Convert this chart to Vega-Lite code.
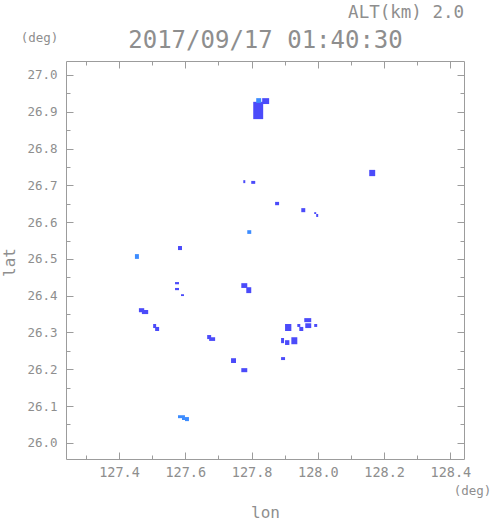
{
  "$schema": "https://vega.github.io/schema/vega-lite/v6.json",
  "width": 398,
  "height": 398,
  "autosize": {"type": "none"},
  "padding": {"left": 66, "top": 61, "right": 27, "bottom": 62},
  "background": "white",
  "config": {
    "view": {"stroke": null},
    "font": "DejaVu Sans Mono",
    "axis": {
      "grid": false,
      "domainColor": "#9c9c9c",
      "tickColor": "#9c9c9c",
      "domainWidth": 1,
      "tickWidth": 1,
      "labelColor": "#8e8e8e",
      "titleColor": "#8e8e8e",
      "labelFont": "DejaVu Sans Mono",
      "titleFont": "DejaVu Sans Mono",
      "titleFontWeight": "normal",
      "labelOverlap": false,
      "labelFlush": false
    }
  },
  "title": {
    "text": "ALT(km) 2.0",
    "anchor": "end",
    "frame": "group",
    "font": "DejaVu Sans Mono",
    "fontSize": 17.5,
    "fontWeight": "normal",
    "color": "#8e8e8e",
    "offset": 7
  },
  "data": {
    "values": [
      {"lon0": 127.814, "lon1": 127.829, "lat0": 26.924, "lat1": 26.937, "level": "low"},
      {"lon0": 127.832, "lon1": 127.853, "lat0": 26.921, "lat1": 26.937, "level": "high"},
      {"lon0": 127.805, "lon1": 127.835, "lat0": 26.880, "lat1": 26.927, "level": "high"},
      {"lon0": 127.578, "lon1": 127.590, "lat0": 26.524, "lat1": 26.535, "level": "high"},
      {"lon0": 127.448, "lon1": 127.460, "lat0": 26.500, "lat1": 26.513, "level": "low"},
      {"lon0": 127.569, "lon1": 127.581, "lat0": 26.431, "lat1": 26.437, "level": "high"},
      {"lon0": 127.569, "lon1": 127.581, "lat0": 26.415, "lat1": 26.421, "level": "high"},
      {"lon0": 127.587, "lon1": 127.596, "lat0": 26.399, "lat1": 26.404, "level": "high"},
      {"lon0": 127.460, "lon1": 127.476, "lat0": 26.355, "lat1": 26.366, "level": "high"},
      {"lon0": 127.469, "lon1": 127.488, "lat0": 26.350, "lat1": 26.361, "level": "high"},
      {"lon0": 127.503, "lon1": 127.512, "lat0": 26.312, "lat1": 26.323, "level": "high"},
      {"lon0": 127.509, "lon1": 127.521, "lat0": 26.304, "lat1": 26.315, "level": "high"},
      {"lon0": 127.666, "lon1": 127.678, "lat0": 26.282, "lat1": 26.293, "level": "high"},
      {"lon0": 127.672, "lon1": 127.690, "lat0": 26.277, "lat1": 26.287, "level": "high"},
      {"lon0": 127.775, "lon1": 127.781, "lat0": 26.706, "lat1": 26.714, "level": "high"},
      {"lon0": 127.799, "lon1": 127.811, "lat0": 26.704, "lat1": 26.712, "level": "high"},
      {"lon0": 127.871, "lon1": 127.883, "lat0": 26.646, "lat1": 26.655, "level": "high"},
      {"lon0": 127.950, "lon1": 127.962, "lat0": 26.627, "lat1": 26.638, "level": "high"},
      {"lon0": 127.989, "lon1": 127.995, "lat0": 26.622, "lat1": 26.627, "level": "high"},
      {"lon0": 127.995, "lon1": 128.001, "lat0": 26.614, "lat1": 26.622, "level": "high"},
      {"lon0": 127.787, "lon1": 127.799, "lat0": 26.568, "lat1": 26.578, "level": "low"},
      {"lon0": 127.769, "lon1": 127.787, "lat0": 26.421, "lat1": 26.434, "level": "high"},
      {"lon0": 127.784, "lon1": 127.799, "lat0": 26.407, "lat1": 26.423, "level": "high"},
      {"lon0": 127.959, "lon1": 127.980, "lat0": 26.328, "lat1": 26.339, "level": "high"},
      {"lon0": 127.962, "lon1": 127.980, "lat0": 26.312, "lat1": 26.325, "level": "high"},
      {"lon0": 127.989, "lon1": 127.998, "lat0": 26.315, "lat1": 26.323, "level": "high"},
      {"lon0": 127.901, "lon1": 127.920, "lat0": 26.304, "lat1": 26.323, "level": "high"},
      {"lon0": 127.938, "lon1": 127.947, "lat0": 26.315, "lat1": 26.323, "level": "high"},
      {"lon0": 127.944, "lon1": 127.956, "lat0": 26.304, "lat1": 26.315, "level": "high"},
      {"lon0": 127.920, "lon1": 127.938, "lat0": 26.268, "lat1": 26.287, "level": "high"},
      {"lon0": 127.889, "lon1": 127.898, "lat0": 26.271, "lat1": 26.285, "level": "high"},
      {"lon0": 127.901, "lon1": 127.914, "lat0": 26.266, "lat1": 26.279, "level": "high"},
      {"lon0": 127.889, "lon1": 127.901, "lat0": 26.225, "lat1": 26.233, "level": "high"},
      {"lon0": 127.738, "lon1": 127.753, "lat0": 26.217, "lat1": 26.230, "level": "high"},
      {"lon0": 127.769, "lon1": 127.787, "lat0": 26.192, "lat1": 26.203, "level": "high"},
      {"lon0": 127.578, "lon1": 127.590, "lat0": 26.067, "lat1": 26.075, "level": "low"},
      {"lon0": 127.590, "lon1": 127.599, "lat0": 26.062, "lat1": 26.075, "level": "low"},
      {"lon0": 127.599, "lon1": 127.611, "lat0": 26.059, "lat1": 26.070, "level": "low"},
      {"lon0": 128.155, "lon1": 128.173, "lat0": 26.725, "lat1": 26.742, "level": "high"}
    ]
  },
  "resolve": {"axis": {"x": "independent", "y": "independent"}},
  "layer": [
    {
      "transform": [{"filter": "datum.level == 'high'"}],
      "mark": {"type": "rect", "strokeWidth": 0},
      "encoding": {
        "x": {
          "field": "lon0", "type": "quantitative",
          "scale": {"domain": [127.24, 128.441], "nice": false, "zero": false},
          "axis": {
            "orient": "bottom",
            "values": [127.3, 127.4, 127.5, 127.6, 127.7, 127.8, 127.9, 128.0, 128.1, 128.2, 128.3, 128.4],
            "tickSize": -7,
            "tickDash": {"condition": {"test": "abs(datum.value*5 - round(datum.value*5)) > 0.001", "value": [4, 20]}, "value": []},
            "labelExpr": "abs(datum.value*5 - round(datum.value*5)) < 0.001 ? format(datum.value, '.1f') : ''",
            "labelFontSize": 13.5,
            "labelPadding": 13,
            "title": "lon",
            "titleFontSize": 16,
            "titleX": 199,
            "titleY": 58,
            "titleAlign": "center",
            "titleBaseline": "alphabetic"
          }
        },
        "x2": {"field": "lon1"},
        "y": {
          "field": "lat0", "type": "quantitative",
          "scale": {"domain": [25.956, 27.038], "nice": false, "zero": false},
          "axis": {
            "orient": "left",
            "values": [26.0, 26.05, 26.1, 26.15, 26.2, 26.25, 26.3, 26.35, 26.4, 26.45, 26.5, 26.55, 26.6, 26.65, 26.7, 26.75, 26.8, 26.85, 26.9, 26.95, 27.0],
            "tickSize": -7,
            "tickDash": {"condition": {"test": "abs(datum.value*10 - round(datum.value*10)) > 0.001", "value": [4, 20]}, "value": []},
            "labelExpr": "abs(datum.value*10 - round(datum.value*10)) < 0.001 ? format(datum.value, '.1f') : ''",
            "labelFontSize": 12.5,
            "labelPadding": 16,
            "title": "lat",
            "titleFontSize": 16,
            "titleAngle": -90,
            "titleX": -57,
            "titleY": 201,
            "titleAlign": "center",
            "titleBaseline": "middle"
          }
        },
        "y2": {"field": "lat1"},
        "color": {
          "field": "level", "type": "nominal",
          "scale": {"domain": ["low", "high"], "range": ["#3c8cff", "#4b4bfa"]},
          "legend": null
        }
      }
    },
    {
      "transform": [{"filter": "datum.level == 'low'"}],
      "mark": {"type": "rect", "strokeWidth": 0},
      "encoding": {
        "x": {
          "field": "lon0", "type": "quantitative",
          "scale": {"domain": [127.24, 128.441], "nice": false, "zero": false},
          "axis": {
            "orient": "top",
            "values": [127.3, 127.4, 127.5, 127.6, 127.7, 127.8, 127.9, 128.0, 128.1, 128.2, 128.3, 128.4],
            "tickSize": -7,
            "tickDash": {"condition": {"test": "abs(datum.value*5 - round(datum.value*5)) > 0.001", "value": [4, 20]}, "value": []},
            "labels": false,
            "title": "2017/09/17 01:40:30",
            "titleFontSize": 24,
            "titleX": 199,
            "titleY": -14,
            "titleAlign": "center",
            "titleBaseline": "alphabetic"
          }
        },
        "x2": {"field": "lon1"},
        "y": {
          "field": "lat0", "type": "quantitative",
          "scale": {"domain": [25.956, 27.038], "nice": false, "zero": false},
          "axis": {
            "orient": "right",
            "values": [26.0, 26.05, 26.1, 26.15, 26.2, 26.25, 26.3, 26.35, 26.4, 26.45, 26.5, 26.55, 26.6, 26.65, 26.7, 26.75, 26.8, 26.85, 26.9, 26.95, 27.0],
            "tickSize": -7,
            "tickDash": {"condition": {"test": "abs(datum.value*10 - round(datum.value*10)) > 0.001", "value": [4, 20]}, "value": []},
            "labels": false,
            "title": "(deg)",
            "titleFontSize": 12.5,
            "titleAngle": 0,
            "titleX": -425,
            "titleY": -20,
            "titleAlign": "center",
            "titleBaseline": "alphabetic"
          }
        },
        "y2": {"field": "lat1"},
        "color": {
          "field": "level", "type": "nominal",
          "scale": {"domain": ["low", "high"], "range": ["#3c8cff", "#4b4bfa"]},
          "legend": null
        }
      }
    },
    {
      "data": {"values": []},
      "mark": {"type": "point"},
      "encoding": {
        "x": {
          "field": "lon0", "type": "quantitative",
          "scale": {"domain": [127.24, 128.441], "nice": false, "zero": false},
          "axis": {
            "orient": "bottom",
            "domain": false,
            "ticks": false,
            "labels": false,
            "title": "(deg)",
            "titleFontSize": 12.5,
            "titleX": 406,
            "titleY": 35,
            "titleAlign": "center",
            "titleBaseline": "alphabetic"
          }
        }
      }
    }
  ]
}
